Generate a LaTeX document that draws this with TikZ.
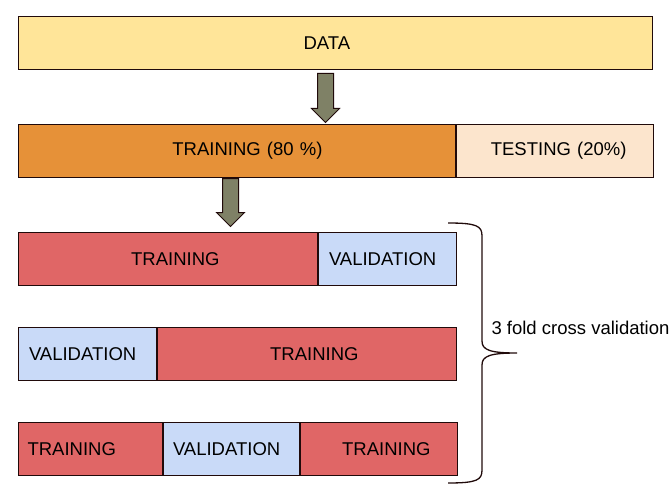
\documentclass[tikz,border=0pt]{standalone}
\usepackage{fontspec}
\setmainfont{Liberation Sans}
\usepackage{tikz}
\usetikzlibrary{positioning,shapes.arrows,calc}
\definecolor{edge}{HTML}{200A0A}
\definecolor{datafill}{HTML}{FFE599}
\definecolor{trainfill}{HTML}{E69138}
\definecolor{testfill}{HTML}{FCE5CD}
\definecolor{redfill}{HTML}{E06666}
\definecolor{bluefill}{HTML}{C9DAF8}
\definecolor{arrowfill}{HTML}{7F8166}
\tikzstyle{box} = [rectangle, draw=edge, line width=1pt, inner sep=0pt,
                 minimum height=53, font=\fontsize{18.5}{21}\selectfont]
\tikzstyle{fold} = [box, fill=redfill, text width=103, align=right]
\tikzstyle{valid} = [box, fill=bluefill, text width=117, align=left]
\tikzstyle{blockarrow} = [single arrow, draw=edge, fill=arrowfill, line width=1pt,
                 rotate=-90, single arrow head extend=6,
                 inner xsep=0pt, inner ysep=7.5pt, anchor=tail]

\begin{document}
\begin{tikzpicture}[x=1pt,y=-1pt]
\useasboundingbox (0,0) rectangle (672,495);

\node [box, fill=datafill, minimum width=634, text width=64, align=left, anchor=north west] at (18,16) (data) {DATA};

\node [box, fill=trainfill, minimum width=437, text width=171, align=right, anchor=north west] at (18,124) (train) {TRAINING (80 \%)};
\node [box, fill=testfill, minimum width=197, text width=143, align=right, right=0pt of train] (test) {TESTING (20\%)};

    	%fold rows
\node [fold, minimum width=299, anchor=north west] at (18,232) (r1a) {TRAINING};
\node [valid, minimum width=138, right=0pt of r1a] (r1b) {VALIDATION};

\node [valid, minimum width=138, anchor=north west] at (18,327) (r2a) {VALIDATION};
\node [fold, minimum width=299, right=0pt of r2a] (r2b) {TRAINING};

\node [fold, minimum width=144, text width=126, align=left, anchor=north west] at (18,422) (r3a) {TRAINING};
\node [valid, minimum width=136, right=0pt of r3a] (r3b) {VALIDATION};
\node [fold, minimum width=157, right=0pt of r3b] (r3c) {TRAINING};

    	%arrows
\node [blockarrow, minimum height=49] at ($(data.south)+(-10,3)$) (arrA) {};
\node [blockarrow, minimum height=48] at ($(train.south)+(-6.5,0)$) (arrB) {};

    	%brace
\coordinate (btop) at (448,223);
\coordinate (btip) at (517,353);
\coordinate (bbot) at (448,483);
\draw [edge, line width=1.3pt] (btop) .. controls (477,223) and (482,226) .. (482,236)
    -- (482,341) .. controls (482,350) and (490,353) .. (btip)
    .. controls (490,353) and (482,356) .. (482,365)
    -- (482,470) .. controls (482,480) and (477,483) .. (bbot);
\node [anchor=west, font=\fontsize{18.5}{21}\selectfont] at (488,328) (cv) {3 fold cross validation};

\end{tikzpicture}
\end{document}
